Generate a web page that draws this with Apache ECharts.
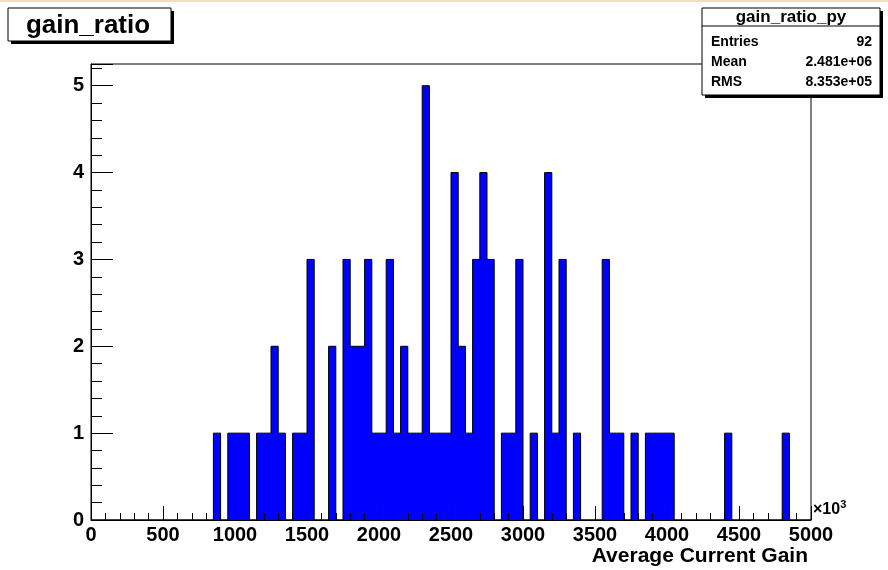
<!DOCTYPE html>
<html>
<head>
<meta charset="utf-8">
<script src="https://cdn.jsdelivr.net/npm/echarts@6/dist/echarts.min.js"></script>
<style>
  html, body { margin: 0; padding: 0; background: #fff; }
  #main { width: 888px; height: 570px; }
</style>
</head>
<body>
<div id="main"></div>
<script type="text/javascript">
    // histogram: 100 bins of 50 (x10^3) from 0 to 5000
    var binWidth = 50;
    var counts = [
        0,0,0,0,0,0,0,0,0,0,
        0,0,0,0,0,0,0,1,0,1,
        1,1,0,1,1,2,1,0,1,1,
        3,0,0,2,0,3,2,2,3,1,
        1,3,1,2,1,1,5,1,1,1,
        4,2,1,3,4,3,0,1,1,3,
        0,1,0,4,1,3,0,1,0,0,
        0,3,1,1,0,1,0,1,1,1,
        1,0,0,0,0,0,0,0,1,0,
        0,0,0,0,0,0,1,0,0,0
    ];
    var xTicks = [0, 500, 1000, 1500, 2000, 2500, 3000, 3500, 4000, 4500, 5000];
    var statNames = ['Entries', 'Mean', 'RMS'];
    var statValues = ['92', '2.481e+06', '8.353e+05'];

    var font = 'Liberation Sans';

    // step outline points at lower bin edges
    var stepData = [];
    for (var i = 0; i < counts.length; i++) {
        stepData.push([i * binWidth, counts[i]]);
    }
    stepData.push([counts.length * binWidth, 0]);

    var graphics = [
        {type: 'rect', shape: {x: 0, y: 0, width: 888, height: 2}, style: {fill: '#f2dcc6'}},
        {type: 'rect', shape: {x: 11, y: 11, width: 163, height: 33}, style: {fill: '#000'}},
        {type: 'rect', shape: {x: 8, y: 8, width: 163, height: 33}, style: {fill: '#fff', stroke: '#000', lineWidth: 1}},
        {type: 'text', x: 88, y: 26, style: {text: 'gain_ratio', font: 'bold 26px ' + font, fill: '#000', align: 'center', verticalAlign: 'middle'}},
        {type: 'rect', shape: {x: 705, y: 11, width: 178, height: 87}, style: {fill: '#000'}},
        {type: 'rect', shape: {x: 702, y: 8, width: 178, height: 87}, style: {fill: '#fff', stroke: '#000', lineWidth: 1}},
        {type: 'line', shape: {x1: 702, y1: 26, x2: 880, y2: 26}, style: {stroke: '#000', lineWidth: 1}},
        {type: 'text', x: 791, y: 17, style: {text: 'gain_ratio_py', font: 'bold 17px ' + font, fill: '#000', align: 'center', verticalAlign: 'middle'}},
        {type: 'text', x: 808, y: 556, style: {text: 'Average Current Gain', font: 'bold 21px ' + font, fill: '#000', align: 'right', verticalAlign: 'middle'}},
        {type: 'text', x: 813, y: 510, style: {
            text: '×10{s|3}', font: 'bold 16px ' + font, fill: '#000', align: 'left', verticalAlign: 'middle',
            rich: {s: {fontFamily: font, fontWeight: 'bold', fontSize: 11, verticalAlign: 'top', padding: [0, 0, 10, 0]}}
        }}
    ];
    for (var k = 0; k < statNames.length; k++) {
        graphics.push({type: 'text', x: 711, y: 42 + k * 20, style: {text: statNames[k], font: 'bold 14px ' + font, fill: '#000', align: 'left', verticalAlign: 'middle'}});
        graphics.push({type: 'text', x: 872, y: 42 + k * 20, style: {text: statValues[k], font: 'bold 14px ' + font, fill: '#000', align: 'right', verticalAlign: 'middle'}});
    }

    var myChart = echarts.init(document.getElementById('main'));
    myChart.setOption({
        animation: false,
        backgroundColor: '#fff',
        grid: {left: 91, right: 77, top: 64, bottom: 50, show: true, borderColor: '#000', borderWidth: 1, backgroundColor: 'transparent'},
        xAxis: {
            type: 'value', min: 0, max: 5000, interval: 500, z: 5,
            axisLine: {show: true, lineStyle: {color: '#000', width: 1}},
            axisTick: {show: true, inside: true, length: 14, lineStyle: {color: '#000'}},
            minorTick: {show: true, splitNumber: 5, length: 7, lineStyle: {color: '#000'}},
            splitLine: {show: false},
            axisLabel: {
                margin: 5, color: '#000', fontFamily: font, fontWeight: 'bold', fontSize: 20,
                formatter: function (v) { return xTicks.indexOf(v) >= 0 ? String(v) : ''; }
            }
        },
        yAxis: {
            type: 'value', min: 0, max: 5.25, interval: 1, z: 5,
            axisLine: {show: true, lineStyle: {color: '#000', width: 1}},
            axisTick: {show: true, inside: true, length: 22, lineStyle: {color: '#000'}},
            minorTick: {show: true, splitNumber: 5, length: 11, lineStyle: {color: '#000'}},
            splitLine: {show: false},
            axisLabel: {
                margin: 7, color: '#000', fontFamily: font, fontWeight: 'bold', fontSize: 20,
                formatter: function (v) { return (v % 1 === 0) ? String(v) : ''; }
            }
        },
        series: [{
            type: 'line',
            step: 'end',
            data: stepData,
            showSymbol: false,
            lineStyle: {color: '#000', width: 1},
            areaStyle: {color: '#0000ff', opacity: 1},
            z: 2
        }],
        graphic: graphics
    });
</script>
</body>
</html>
